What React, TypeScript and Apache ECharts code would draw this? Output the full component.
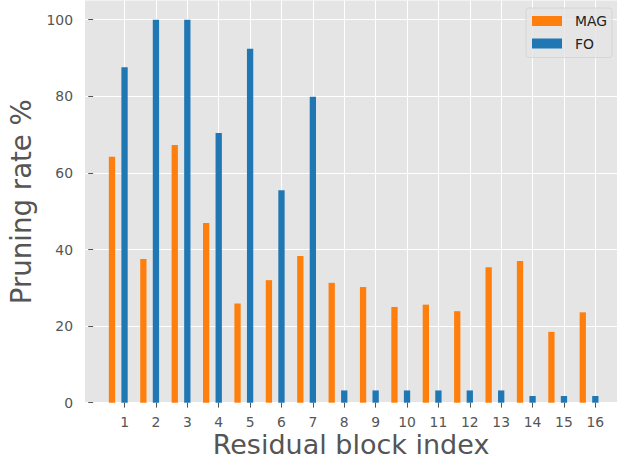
import React, { useEffect, useRef } from "react";
import * as echarts from "echarts";

const blocks = [1, 2, 3, 4, 5, 6, 7, 8, 9, 10, 11, 12, 13, 14, 15, 16];
const magValues = [64.2, 37.5, 67.3, 46.9, 25.9, 32.0, 38.3, 31.3, 30.2, 25.0, 25.6, 23.9, 35.4, 37.0, 18.5, 23.6];
const foValues = [87.6, 100, 100, 70.4, 92.4, 55.5, 79.9, 3.2, 3.2, 3.2, 3.2, 3.2, 3.2, 1.75, 1.75, 1.75];
const yTicks = [0, 20, 40, 60, 80, 100];

const FONT = "DejaVu Sans";

export default function App() {
  const ref = useRef<HTMLDivElement>(null);
  useEffect(() => {
    if (!ref.current) return;
    const chart = echarts.init(ref.current, undefined, { renderer: "svg" });
    chart.setOption({
      animation: false,
      backgroundColor: "#ffffff",
      textStyle: { fontFamily: FONT },
      grid: {
        left: 85,
        right: 0,
        top: 0.6,
        bottom: 56.3,
        show: true,
        backgroundColor: "#e5e5e5",
        borderWidth: 0,
        containLabel: false,
        outerBoundsMode: "none",
      },
      legend: {
        orient: "vertical",
        right: 5,
        top: 8,
        padding: [5, 5, 6, 6],
        itemWidth: 30,
        itemHeight: 10,
        itemGap: 6.5,
        icon: "rect",
        backgroundColor: "rgba(229,229,229,0.8)",
        borderColor: "rgba(210,210,210,0.8)",
        borderWidth: 1,
        borderRadius: 3,
        textStyle: { fontFamily: FONT, fontSize: 13.9, color: "#222", padding: [0, 0, 0, 8], lineHeight: 16 },
        data: ["MAG", "FO"],
      },
      xAxis: {
        type: "value",
        min: -0.26,
        max: 16.69,
        name: "Residual block index",
        nameLocation: "middle",
        nameGap: 29,
        nameMoveOverlap: false,
        nameTextStyle: { fontFamily: FONT, fontSize: 27, lineHeight: 26, color: "#555" },
        axisLine: { show: false },
        axisTick: { show: true, customValues: blocks, length: 4.9, lineStyle: { color: "#555", width: 1 } },
        axisLabel: { customValues: blocks, margin: 12, fontFamily: FONT, fontSize: 13.9, color: "#555" },
        splitLine: { show: true, lineStyle: { color: "#ffffff", width: 1 } },
      },
      yAxis: {
        type: "value",
        min: 0,
        max: 105,
        name: "Pruning rate %",
        nameLocation: "middle",
        nameGap: 50,
        nameMoveOverlap: false,
        nameTextStyle: { fontFamily: FONT, fontSize: 27.6, color: "#555" },
        axisLine: { show: false },
        axisTick: { show: true, customValues: yTicks, length: 4.9, lineStyle: { color: "#555", width: 1 } },
        axisLabel: { customValues: yTicks, margin: 12, fontFamily: FONT, fontSize: 13.9, color: "#555" },
        splitLine: { show: true, lineStyle: { color: "#ffffff", width: 1 } },
      },
      series: [
        {
          name: "MAG",
          type: "bar",
          barWidth: 6.3,
          barGap: "-100%",
          itemStyle: { color: "#ff7f0e" },
          data: blocks.map((b, i) => [b - 0.4, magValues[i]]),
        },
        {
          name: "FO",
          type: "bar",
          barWidth: 6.3,
          barGap: "-100%",
          itemStyle: { color: "#1f77b4" },
          data: blocks.map((b, i) => [b, foValues[i]]),
        },
      ],
    });
    return () => chart.dispose();
  }, []);
  return <div ref={ref} style={{ width: 617, height: 459, position: "absolute", left: 0, top: 0 }} />;
}
